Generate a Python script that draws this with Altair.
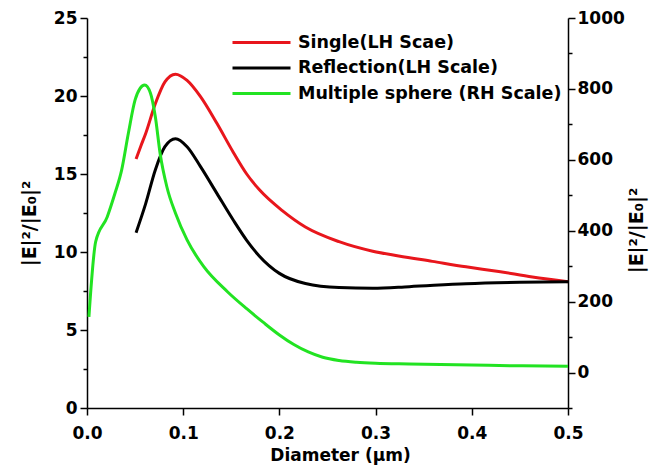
import altair as alt
import pandas as pd

series_names = ["Single(LH Scae)", "Reflection(LH Scale)", "Multiple sphere (RH Scale)"]
series_colors = ["#e8161c", "#000000", "#22e322"]

single_x = [0.051, 0.056, 0.061, 0.071, 0.081, 0.092, 0.104, 0.118, 0.135, 0.152, 0.166,
            0.179, 0.203, 0.227, 0.262, 0.297, 0.324, 0.359, 0.394, 0.428, 0.463, 0.5]
single_y = [15.96, 16.8, 17.6, 19.5, 20.9, 21.4, 21.0, 19.96, 18.25, 16.4, 15.0,
            14.0, 12.65, 11.6, 10.66, 10.05, 9.75, 9.4, 9.05, 8.75, 8.4, 8.1]

refl_x = [0.051, 0.061, 0.071, 0.081, 0.092, 0.104, 0.118, 0.135, 0.152, 0.166, 0.179,
          0.2, 0.227, 0.262, 0.297, 0.335, 0.394, 0.45, 0.5]
refl_y = [11.24, 13.1, 15.26, 16.75, 17.26, 16.75, 15.47, 13.76, 12.05, 10.75, 9.75,
          8.63, 7.98, 7.72, 7.68, 7.78, 7.97, 8.06, 8.1]

multi_x = [0.002, 0.009, 0.021, 0.029, 0.036, 0.043, 0.050, 0.055, 0.060, 0.066, 0.071,
           0.076, 0.083, 0.092, 0.104, 0.121, 0.146, 0.166, 0.183, 0.2, 0.215, 0.23,
           0.245, 0.262, 0.28, 0.3, 0.335, 0.4, 0.45, 0.5]
multi_y = [157, 369, 439, 505, 571, 675, 769, 801, 811, 788, 722,
           618, 524, 449, 374, 300, 228, 180, 142, 106, 79, 58,
           43, 34, 29, 26, 24, 21, 19, 18]

x_ticks = [0.0, 0.1, 0.2, 0.3, 0.4, 0.5]
left_ticks = [0, 2.5, 5, 7.5, 10, 12.5, 15, 17.5, 20, 22.5, 25]
right_ticks = [-100, 0, 100, 200, 300, 400, 500, 600, 700, 800, 900, 1000]

FONT = "DejaVu Sans"

df_lh = pd.DataFrame({
    "d": single_x + refl_x,
    "v": single_y + refl_y,
    "series": [series_names[0]] * len(single_x) + [series_names[1]] * len(refl_x),
})
df_rh = pd.DataFrame({
    "d": multi_x,
    "v": multi_y,
    "series": [series_names[2]] * len(multi_x),
})

x_axis = alt.Axis(values=x_ticks, format=".1f", title="Diameter (μm)", tickSize=7,
                  labelPadding=10, titlePadding=6, grid=False, labelFlush=False,
                  titleX=253, titleFontSize=17)
x_enc = alt.X("d:Q", scale=alt.Scale(domain=[0, 0.5], nice=False), axis=x_axis)

legend = alt.Legend(title=None, orient="none", legendX=163, legendY=13,
                    symbolType="M-2.9,0H2.9", symbolSize=400, symbolStrokeWidth=3,
                    labelOffset=25, rowPadding=5.5, padding=0,
                    labelFont=FONT, labelFontSize=17.5, labelFontWeight="bold",
                    labelColor="black", labelLimit=400)
color_enc = alt.Color("series:N", scale=alt.Scale(domain=series_names, range=series_colors),
                      legend=legend, sort=series_names)

left = alt.Chart(df_lh).mark_line(strokeWidth=3, interpolate="monotone").encode(
    x=x_enc,
    y=alt.Y("v:Q", scale=alt.Scale(domain=[0, 25], nice=False),
            axis=alt.Axis(values=left_ticks, title="|E|²/|E₀|²", grid=False,
                          labelExpr="datum.value % 5 === 0 ? datum.label : ''",
                          tickSize={"condition": {"test": "datum.value % 5 === 0", "value": 7}, "value": 4},
                          labelPadding=3, titlePadding=14, titleY=205)),
    color=color_enc,
    detail="series:N",
)

right = alt.Chart(df_rh).mark_line(strokeWidth=3, interpolate="monotone").encode(
    x=x_enc,
    y=alt.Y("v:Q", scale=alt.Scale(domain=[-100, 1000], nice=False),
            axis=alt.Axis(values=right_ticks, format="d", title="|E|²/|E₀|²", orient="right", grid=False,
                          labelExpr="(datum.value % 200 === 0 && datum.value >= 0) ? datum.label : ''",
                          tickSize={"condition": {"test": "datum.value % 200 === 0", "value": 7}, "value": 4},
                          labelPadding=2, titlePadding=3, titleAngle=270, titleBaseline="top",
                          titleY=212)),
    color=color_enc,
)

chart = alt.layer(left, right).resolve_scale(y="independent").properties(
    width=481, height=390,
    padding={"left": 12, "top": 1, "right": 5, "bottom": 2},
).configure_view(stroke=None).configure_axis(
    labelFont=FONT, labelFontSize=17, labelFontWeight="bold", labelColor="black",
    titleFont=FONT, titleFontSize=18, titleFontWeight="bold", titleColor="black",
    domainColor="black", domainWidth=1.5, tickColor="black", tickWidth=1.5,
).configure_axisY(titleFontSize=19)

chart.save("out.html", embed_options={"renderer": "svg", "actions": False})
